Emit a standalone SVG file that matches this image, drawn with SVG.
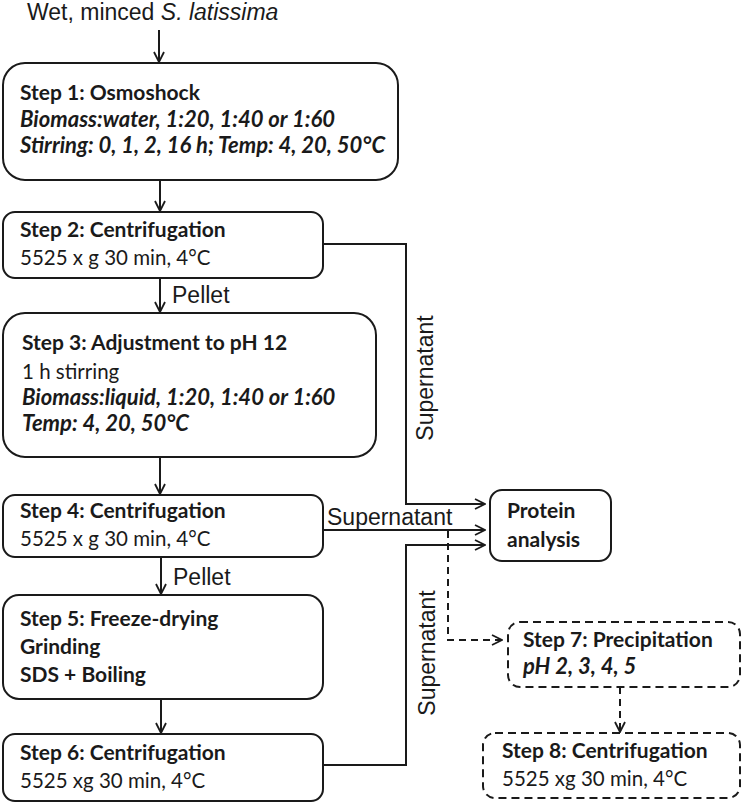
<svg xmlns="http://www.w3.org/2000/svg" width="742" height="803" viewBox="0 0 742 803">
<style>
.box{fill:#fff;stroke:#1a1a1a;stroke-width:2}
.dbox{fill:#fff;stroke:#1a1a1a;stroke-width:2;stroke-dasharray:8 5}
.t{font-family:Lato,"Open Sans","Liberation Sans",sans-serif;font-size:20.5px;fill:#1a1a1a}
.b{font-weight:bold;font-size:21px}
.i{font-style:italic;font-weight:bold;font-size:22px}
.lbl{font-family:"Liberation Sans",Arial,sans-serif;font-size:23px;fill:#1a1a1a}
.c{fill:none;stroke:#1a1a1a;stroke-width:2}
.d{fill:none;stroke:#1a1a1a;stroke-width:2;stroke-dasharray:7 5}
</style>
<defs>
<marker id="ah" viewBox="0 0 12 12" refX="11" refY="6" markerWidth="12" markerHeight="12" markerUnits="userSpaceOnUse" orient="auto">
<path d="M1,1 L11,6 L1,11" fill="none" stroke="#1a1a1a" stroke-width="1.8"/>
</marker>
</defs>
<text class="lbl" x="27" y="20" font-size="21.5">Wet, minced <tspan font-style="italic">S. latissima</tspan></text>

<g id="step1">
<rect class="box" x="3" y="63" width="395" height="117" rx="22"/>
<text class="t b" x="20" y="100">Step 1: Osmoshock</text>
<text class="t i" x="20" y="127">Biomass:water, 1:20, 1:40 or 1:60</text>
<text class="t i" x="20" y="153">Stirring: 0, 1, 2, 16 h; Temp: 4, 20, 50°C</text>
</g>
<g id="step2">
<rect class="box" x="3" y="212" width="320" height="66" rx="12"/>
<text class="t b" x="20" y="237">Step 2: Centrifugation</text>
<text class="t" x="20" y="265">5525 x g 30 min, 4°C</text>
</g>
<g id="step3">
<rect class="box" x="3" y="313" width="373" height="144" rx="22"/>
<text class="t b" x="22" y="350">Step 3: Adjustment to pH 12</text>
<text class="t" x="22" y="379">1 h stirring</text>
<text class="t i" x="22" y="405">Biomass:liquid, 1:20, 1:40 or 1:60</text>
<text class="t i" x="22" y="431">Temp: 4, 20, 50°C</text>
</g>
<g id="step4">
<rect class="box" x="3" y="495" width="320" height="62" rx="12"/>
<text class="t b" x="20" y="518">Step 4: Centrifugation</text>
<text class="t" x="20" y="546">5525 x g 30 min, 4°C</text>
</g>
<g id="step5">
<rect class="box" x="3" y="595" width="320" height="104" rx="16"/>
<text class="t b" x="20" y="626">Step 5: Freeze-drying</text>
<text class="t b" x="20" y="654">Grinding</text>
<text class="t b" x="20" y="682">SDS + Boiling</text>
</g>
<g id="step6">
<rect class="box" x="3" y="734" width="320" height="67" rx="12"/>
<text class="t b" x="20" y="760">Step 6: Centrifugation</text>
<text class="t" x="20" y="788">5525 xg 30 min, 4°C</text>
</g>
<g id="protein">
<rect class="box" x="490" y="490" width="121" height="71" rx="12"/>
<text class="t b" x="507" y="518">Protein</text>
<text class="t b" x="507" y="547">analysis</text>
</g>
<g id="step7">
<rect class="dbox" x="508" y="622" width="232" height="65" rx="12"/>
<text class="t b" x="523" y="647">Step 7: Precipitation</text>
<text class="t i" x="523" y="674">pH 2, 3, 4, 5</text>
</g>
<g id="step8">
<rect class="dbox" x="483" y="733" width="257" height="65" rx="12"/>
<text class="t b" x="502" y="758">Step 8: Centrifugation</text>
<text class="t" x="502" y="786">5525 xg 30 min, 4°C</text>
</g>

<g id="connectors">
<line class="c" x1="159" y1="30" x2="159" y2="62" marker-end="url(#ah)"/>
<line class="c" x1="160" y1="180" x2="160" y2="211" marker-end="url(#ah)"/>
<line class="c" x1="160" y1="278" x2="160" y2="312" marker-end="url(#ah)"/>
<line class="c" x1="160" y1="457" x2="160" y2="494" marker-end="url(#ah)"/>
<line class="c" x1="161" y1="557" x2="161" y2="594" marker-end="url(#ah)"/>
<line class="c" x1="161" y1="699" x2="161" y2="733" marker-end="url(#ah)"/>
<polyline class="c" points="323,244 406,244 406,504 485,504" marker-end="url(#ah)"/>
<line class="c" x1="323" y1="530" x2="485" y2="530" marker-end="url(#ah)"/>
<polyline class="c" points="323,765 406,765 406,545 485,545" marker-end="url(#ah)"/>
<polyline class="d" points="448,531 448,640 502,640" marker-end="url(#ah)"/>
<line class="d" x1="620" y1="687" x2="620" y2="732" marker-end="url(#ah)"/>
<text class="lbl" x="172" y="303" font-size="22">Pellet</text>
<text class="lbl" x="173" y="585" font-size="22">Pellet</text>
<text class="lbl" x="327" y="525">Supernatant</text>
<text class="lbl" transform="translate(433,378) rotate(-90)" text-anchor="middle">Supernatant</text>
<text class="lbl" transform="translate(435,653) rotate(-90)" text-anchor="middle">Supernatant</text>
</g>
</svg>
